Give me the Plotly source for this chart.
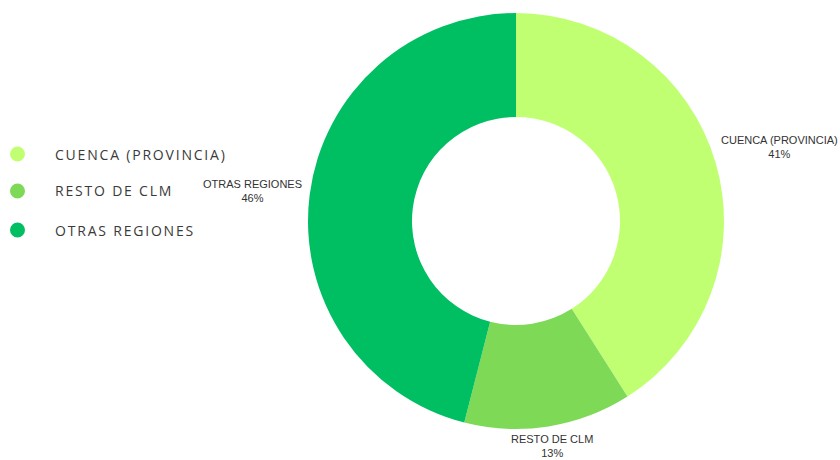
import plotly.graph_objects as go

categories = ["CUENCA (PROVINCIA)", "RESTO DE CLM", "OTRAS REGIONES"]
values = [41, 13, 46]
colors = ["#C1FF72", "#7ED957", "#00BF63"]

W, H = 840, 460
fig = go.Figure()
fig.add_trace(go.Pie(
    labels=categories, values=values, hole=0.5, sort=False,
    direction="clockwise", rotation=0,
    marker=dict(colors=colors, line=dict(width=0)),
    textinfo="none",
    domain=dict(x=[308 / W, 724 / W], y=[1 - 429 / H, 1 - 13 / H]),
    showlegend=False, automargin=False,
))

# outside slice labels
total = sum(values)
label_pos = [(779, 147), (552, 446), (252, 191)]
for cat, v, (px, py) in zip(categories, values, label_pos):
    fig.add_annotation(xref="paper", yref="paper", x=px / W, y=1 - py / H,
                       xanchor="center", yanchor="middle", showarrow=False,
                       text=f"{cat}<br>{round(100 * v / total)}%",
                       font=dict(family="Liberation Sans, Arial", size=11, color="#333333"))

# custom legend with circle markers
leg_y = [154, 191, 230]
for cat, col, yy in zip(categories, colors, leg_y):
    fig.add_shape(type="circle", xref="paper", yref="paper",
                  x0=10 / W, x1=25 / W, y0=1 - (yy + 7.5) / H, y1=1 - (yy - 7.5) / H,
                  fillcolor=col, line=dict(width=0))
    fig.add_annotation(xref="paper", yref="paper", x=53 / W, y=1 - yy / H,
                       xanchor="left", yanchor="middle", showarrow=False,
                       text=f'<span style="letter-spacing:1.8px">{cat}</span>',
                       font=dict(family="Open Sans", size=14, color="#3a3a3a", weight=500))

fig.update_layout(width=W, height=H, margin=dict(l=0, r=0, t=0, b=0),
                  paper_bgcolor="white", plot_bgcolor="white")
fig.write_html("out.html")
